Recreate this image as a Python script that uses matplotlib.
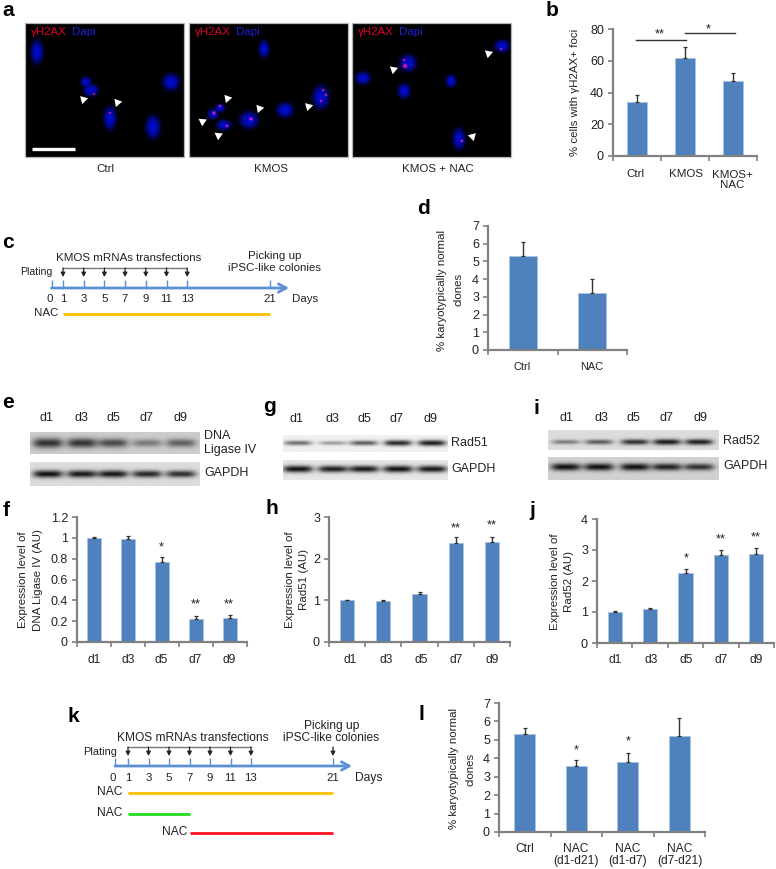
#!/usr/bin/env python3
"""Multi-panel figure: gH2AX imaging, timelines, blots and bar charts."""

import numpy as np
import matplotlib
matplotlib.use("Agg")
import matplotlib.pyplot as plt

W, H = 776, 869
BAR = "#4F81BD"
BAR_EDGE = "#A9C4E4"
GREY = "#808080"
TXT = "#222222"

plt.rcParams["font.family"] = ["Liberation Sans", "DejaVu Sans"]

# bar chart values ------------------------------------------------------------
b_labels = ["Ctrl", "KMOS", "KMOS+\nNAC"]
b_vals = [34, 62, 47]
b_errs = [4.5, 6.5, 5.5]

d_labels = ["Ctrl", "NAC"]
d_vals = [5.3, 3.2]
d_errs = [0.8, 0.8]

days = ["d1", "d3", "d5", "d7", "d9"]
f_vals = [1.0, 0.99, 0.77, 0.225, 0.23]
f_errs = [0.005, 0.025, 0.05, 0.025, 0.03]
h_vals = [1.0, 0.99, 1.16, 2.38, 2.40]
h_errs = [0.01, 0.02, 0.05, 0.15, 0.13]
j_vals = [1.0, 1.10, 2.26, 2.84, 2.86]
j_errs = [0.02, 0.04, 0.14, 0.17, 0.22]

l_labels = ["Ctrl", "NAC\n(d1-d21)", "NAC\n(d1-d7)", "NAC\n(d7-d21)"]
l_vals = [5.3, 3.6, 3.8, 5.2]
l_errs = [0.32, 0.3, 0.5, 1.0]

# western blot band strengths (0..1) -------------------------------------------
e_top = [0.80, 0.78, 0.66, 0.42, 0.55]
e_gapdh = [0.95, 0.92, 0.92, 0.85, 0.82]
g_top = [0.55, 0.35, 0.62, 0.85, 0.90]
g_gapdh = [0.95, 0.90, 0.92, 0.95, 0.92]
i_top = [0.45, 0.60, 0.80, 0.90, 0.88]
i_gapdh = [0.95, 0.95, 0.95, 0.88, 0.80]

# microscope fields: nuclei (x, y, rx, ry) and foci (x, y, r) in figure pixels -
ctrl_nuclei = [(37, 52, 6, 11), (86, 82, 5, 5), (91, 90, 7, 6), (110, 118, 6, 11),
               (171, 82, 8, 8), (153, 127, 7, 11)]
ctrl_foci = [(94, 94, 1.0), (110, 113, 1.0)]
ctrl_tips = [(83, 99, -75), (117, 102, 160)]

kmos_nuclei = [(264, 49, 5, 8), (213, 114, 5, 5), (220, 108, 5, 4), (224, 125, 7, 5),
               (249, 120, 9, 8), (285, 110, 8, 7), (321, 97, 8, 11)]
kmos_foci = [(214, 113, 1.5), (220, 106, 1.2), (227, 126, 1.2), (251, 119, 1.5),
             (323, 90, 1.1), (326, 95, 1.1), (321, 101, 1.1)]
kmos_tips = [(227, 98, 160), (202, 121, -65), (218, 135, -65), (259, 108, 160), (308, 106, -75)]

nac_nuclei = [(408, 63, 8, 8), (363, 78, 7, 6), (451, 81, 5, 6), (404, 91, 6, 7),
              (502, 46, 7, 6), (459, 139, 6, 10)]
nac_foci = [(405, 66, 2.0), (404, 60, 1.1), (501, 49, 1.0), (462, 141, 1.2)]
nac_tips = [(393, 69, -70), (488, 53, -70), (472, 136, 75)]

timeline_days = [0, 1, 3, 5, 7, 9, 11, 13, 21]
transfection_days = [1, 3, 5, 7, 9, 11, 13]


def fpx(v):
    """font size in points for a size given in pixels"""
    return v * 72.0 / 100.0


fig = plt.figure(figsize=(W / 100, H / 100), dpi=100)
bg = fig.add_axes([0, 0, 1, 1])
bg.set_xlim(0, W)
bg.set_ylim(H, 0)
bg.axis("off")


def label(x, y, s, size=11.5, **kw):
    kw.setdefault("ha", "center")
    kw.setdefault("va", "center")
    kw.setdefault("color", TXT)
    bg.text(x, y, s, fontsize=fpx(size), **kw)


def letter(x, y, s):
    label(x, y, s, size=21, fontweight="bold", color="black")


def bar_panel(x0, x1, y0, y1, vals, errs, ymax, ticks, ticklabels=None, width=0.42):
    """x0..x1, y0(baseline)..y1(top) are figure pixels"""
    ax = fig.add_axes([x0 / W, 1 - y0 / H, (x1 - x0) / W, (y0 - y1) / H])
    xs = np.arange(len(vals))
    ax.bar(xs, vals, width=width, color=BAR, edgecolor=BAR_EDGE, linewidth=0.6, zorder=2)
    ax.errorbar(xs, vals, yerr=[np.zeros(len(vals)), errs], fmt="none", ecolor="#333333",
                elinewidth=1.0, capsize=1.6, capthick=0.9, zorder=3)
    ax.set_xlim(-0.5, len(vals) - 0.5)
    ax.set_ylim(0, ymax)
    ax.set_xticks(np.arange(len(vals) + 1) - 0.5)
    ax.set_xticklabels([])
    ax.set_yticks(ticks)
    ax.set_yticklabels(ticklabels if ticklabels else [str(t) for t in ticks],
                       fontsize=fpx(12.5), color=TXT)
    ax.tick_params(axis="both", color=GREY, width=1.2, length=3.5, pad=3)
    for side in ("top", "right"):
        ax.spines[side].set_visible(False)
    for side in ("left", "bottom"):
        ax.spines[side].set_color(GREY)
        ax.spines[side].set_linewidth(1.6)
    ax.patch.set_alpha(0)
    return ax


def field(x0, x1, y0, y1, nuclei, foci, tips):
    yy, xx = np.mgrid[y0:y1, x0:x1] + 0.5
    blue = np.zeros(xx.shape)
    red = np.zeros(xx.shape)
    for nx, ny, rx, ry in nuclei:
        d = ((xx - nx) / rx) ** 2 + ((yy - ny) / ry) ** 2
        blue = np.maximum(blue, 0.78 * np.exp(-d ** 1.6))
    for nx, ny, r in foci:
        d = ((xx - nx) ** 2 + (yy - ny) ** 2) / r ** 2
        red = np.maximum(red, np.exp(-d))
    img = np.dstack([red, 0.05 * blue + 0.1 * red, np.maximum(blue, 0.5 * red)])
    bg.imshow(np.clip(img, 0, 1), extent=(x0, x1, y1, y0), aspect="auto",
              interpolation="bilinear", zorder=1)
    bg.add_patch(plt.Rectangle((x0, y0), x1 - x0, y1 - y0, fill=False,
                               edgecolor="#B5B5B5", linewidth=0.9, zorder=2))
    for tx, ty, ang in tips:
        bg.scatter([tx], [ty], marker=(3, 0, ang), s=48, c="white", linewidths=0, zorder=3)
    label(x0 + 6, y0 + 9, "γH2AX", size=11.5, ha="left", color="#E0002A", zorder=4)
    label(x0 + 47, y0 + 9, "Dapi", size=11.5, ha="left", color="#1A22D8", zorder=4)


def blot(x0, x1, y0, y1, centers, strengths, yc, shade, halfw=14, sigma=2.6):
    yy, xx = np.mgrid[y0:y1, x0:x1] + 0.5
    img = np.full(xx.shape, shade)
    for cx, s in zip(centers, strengths):
        prof_x = np.exp(-(np.abs(xx - cx) / halfw) ** 4)
        prof_y = np.exp(-((yy - yc) / (sigma * (0.6 + 0.6 * s))) ** 2)
        img = img - (shade - 0.04) * s * prof_x * prof_y
    bg.imshow(np.clip(img, 0, 1), extent=(x0, x1, y1, y0), aspect="auto", cmap="gray",
              vmin=0, vmax=1, interpolation="bilinear", zorder=1)


def timeline(xpos, y, x_end, ys, extra_arrow):
    """xpos maps a day to a figure pixel"""
    bg.annotate("", xy=(x_end, y), xytext=(xpos(0), y),
                arrowprops=dict(arrowstyle="->,head_width=0.3,head_length=0.55",
                                color="#5B8FD6", lw=2.0, shrinkA=0, shrinkB=0))
    for d in timeline_days:
        bg.plot([xpos(d)] * 2, [y - 8, y], color="#5B8FD6", lw=1.0, solid_capstyle="butt")
        dx = -2 if d in (1, 0) and d == 0 else 0
        label(xpos(d) + dx, ys["num"], str(d), size=11.5)
    bg.plot([xpos(1), xpos(13)], [ys["arrow_top"]] * 2, color="#777777", lw=1.0)
    arrow_days = transfection_days + ([21] if extra_arrow else [])
    for d in arrow_days:
        bg.annotate("", xy=(xpos(d), ys["arrow_bot"]), xytext=(xpos(d), ys["arrow_top"]),
                    arrowprops=dict(arrowstyle="-|>,head_width=0.13,head_length=0.25",
                                    color="#222222", lw=0.9, shrinkA=0, shrinkB=0))


# a ---------------------------------------------------------------------------
letter(8, 10, "a")
field(25, 184, 23, 157, ctrl_nuclei, ctrl_foci, ctrl_tips)
field(189, 348, 23, 157, kmos_nuclei, kmos_foci, kmos_tips)
field(352, 511, 23, 157, nac_nuclei, nac_foci, nac_tips)
bg.plot([32, 75], [149, 149], color="white", lw=2.4, solid_capstyle="butt", zorder=4)
label(105, 169, "Ctrl")
label(271, 169, "KMOS")
label(438, 169, "KMOS + NAC")

# b ---------------------------------------------------------------------------
letter(552, 10, "b")
bar_panel(613, 757, 156, 29, b_vals, b_errs, 80, [0, 20, 40, 60, 80], width=0.4)
for xc, s in zip([635, 686, 732], b_labels):
    label(xc, 180.5 if "\n" in s else 174, s, linespacing=1.0)
label(575, 92, "% cells with γH2AX+ foci", size=11.5, rotation=90)
bg.plot([636, 686], [40, 40], color="#333333", lw=1.0)
bg.plot([685, 735], [33, 33], color="#333333", lw=1.0)
label(660, 34, "**", size=13)
label(708, 29, "*", size=13)

# c ---------------------------------------------------------------------------
letter(8, 242, "c")
c_x = lambda d: 63 + (d - 1) * (270 - 63) / 20 if d > 0 else 51.5
timeline(c_x, 288, 289, dict(num=299, arrow_top=268, arrow_bot=277), False)
label(129, 258, "KMOS mRNAs transfections", size=11.5)
label(275, 256, "Picking up", size=11.5)
label(274, 268, "iPSC-like colonies", size=11.5)
label(36, 272, "Plating", size=10.5)
label(46, 313, "NAC", size=11.5)
label(305, 299, "Days", size=11.5)
bg.plot([63, 270], [314, 314], color="#FFC000", lw=2.0, solid_capstyle="butt")

# d ---------------------------------------------------------------------------
letter(423, 208, "d")
bar_panel(488, 627, 350, 226, d_vals, d_errs, 7, list(range(8)), width=0.4)
for xc, s in zip([522, 592], d_labels):
    label(xc, 367, s, size=11)
label(442, 290, "% karyotypically normal", size=11.5, rotation=90)
label(458, 289, "clones", size=11.5, rotation=90)
label(592, 297, "*", size=13)

# e, g, i blots ---------------------------------------------------------------
narrow = ["Liberation Sans Narrow", "Liberation Sans"]
letter(8, 402, "e")
letter(270, 407, "g")
letter(536, 408, "i")
e_x = [48, 82, 113, 147, 181]
g_x = [298, 333, 364, 398, 432]
i_x = [566, 599, 635, 667, 699]
blot(30, 200, 432, 454, e_x, e_top, 443, 0.80, halfw=15, sigma=4.5)
blot(30, 200, 462, 486, e_x, e_gapdh, 474, 0.86, halfw=15, sigma=3.2)
blot(283, 448, 435, 452, g_x, g_top, 443, 0.94, halfw=14, sigma=2.6)
blot(283, 448, 460, 480, g_x, g_gapdh, 469, 0.90, halfw=15, sigma=3.0)
blot(548, 719, 430, 450, i_x, i_top, 442, 0.86, halfw=14, sigma=2.6)
blot(548, 719, 457, 480, i_x, i_gapdh, 467, 0.82, halfw=15, sigma=3.2)
for xs_, yl, lx in ((e_x, 418, [47, 81, 113, 146, 180]), (g_x, 419, [297, 332, 364, 397, 431]),
                    (i_x, 418, [567, 601, 633, 667, 700])):
    for xc, s in zip(lx, days):
        label(xc, yl, s, size=12.5, family=narrow)
label(204, 436, "DNA", size=12.5, ha="left", family=narrow)
label(204, 450, "Ligase IV", size=12.5, ha="left", family=narrow)
label(204, 473, "GAPDH", size=12.5, ha="left", family=narrow)
label(451, 443, "Rad51", size=12.5, ha="left", family=narrow)
label(451, 469, "GAPDH", size=12.5, ha="left", family=narrow)
label(723, 441, "Rad52", size=12.5, ha="left", family=narrow)
label(723, 466, "GAPDH", size=12.5, ha="left", family=narrow)

# f, h, j ---------------------------------------------------------------------
letter(6, 510, "f")
bar_panel(77, 247, 642, 517, f_vals, f_errs, 1.2, [0, 0.2, 0.4, 0.6, 0.8, 1, 1.2])
for xc, s in zip([94, 128, 161, 195, 229], days):
    label(xc, 660, s, size=12, family=narrow)
label(23, 580, "Expression level of", size=11.5, rotation=90)
label(38, 580, "DNA Ligase IV (AU)", size=11.5, rotation=90)
label(161, 547, "*", size=13)
label(195.5, 604, "**", size=13)
label(229, 604, "**", size=13)

letter(272, 508, "h")
bar_panel(329, 510, 642, 517, h_vals, h_errs, 3, [0, 1, 2, 3], width=0.39)
for xc, s in zip([350, 386, 421, 456, 492], days):
    label(xc, 660, s, size=12, family=narrow)
label(290, 580, "Expression level of", size=11.5, rotation=90)
label(304, 580, "Rad51 (AU)", size=11.5, rotation=90)
label(456, 528, "**", size=13)
label(492, 525, "**", size=13)

letter(532, 510, "j")
bar_panel(597, 774, 643, 519, j_vals, j_errs, 4, [0, 1, 2, 3, 4], width=0.4)
for xc, s in zip([615, 651, 686, 721, 756], days):
    label(xc, 660, s, size=12, family=narrow)
label(555, 582, "Expression level of", size=11.5, rotation=90)
label(569, 582, "Rad52 (AU)", size=11.5, rotation=90)
label(686, 558, "*", size=13)
label(721, 539, "**", size=13)
label(756, 537, "**", size=13)

# k ---------------------------------------------------------------------------
letter(73, 716, "k")
k_x = lambda d: 128 + (d - 1) * (333 - 128) / 20 if d > 0 else 115
timeline(k_x, 766, 352, dict(num=778, arrow_top=747, arrow_bot=756), True)
label(193, 738, "KMOS mRNAs transfections", size=12, family=narrow)
label(332, 726, "Picking up", size=12, family=narrow)
label(331, 738, "iPSC-like colonies", size=12, family=narrow)
label(100, 752, "Plating", size=11, family=narrow)
label(369, 778, "Days", size=12, family=narrow)
for xc, yc, x_a, x_b, col in ((110, 792, 1, 21, "#FFC000"), (110, 813, 1, 7, "#22DD22"),
                              (175, 832, 7, 21, "#FF1020")):
    label(xc, yc, "NAC", size=12, family=narrow)
    bg.plot([k_x(x_a), k_x(x_b)], [yc + 1] * 2, color=col, lw=2.0, solid_capstyle="butt")

# l ---------------------------------------------------------------------------
letter(421, 714, "l")
bar_panel(499, 705, 832, 703, l_vals, l_errs, 7, list(range(8)), width=0.4)
for xc, s in zip([525, 576, 628, 680], l_labels):
    label(xc, 855 if "\n" in s else 849, s, size=12, family=narrow, linespacing=1.0)
label(454, 768, "% karyotypically normal", size=11.5, rotation=90)
label(470, 769, "clones", size=11.5, rotation=90)
label(576, 750, "*", size=13)
label(628, 741, "*", size=13)

bg.set_xlim(0, W)
bg.set_ylim(H, 0)
fig.savefig("out.png", dpi=100)
